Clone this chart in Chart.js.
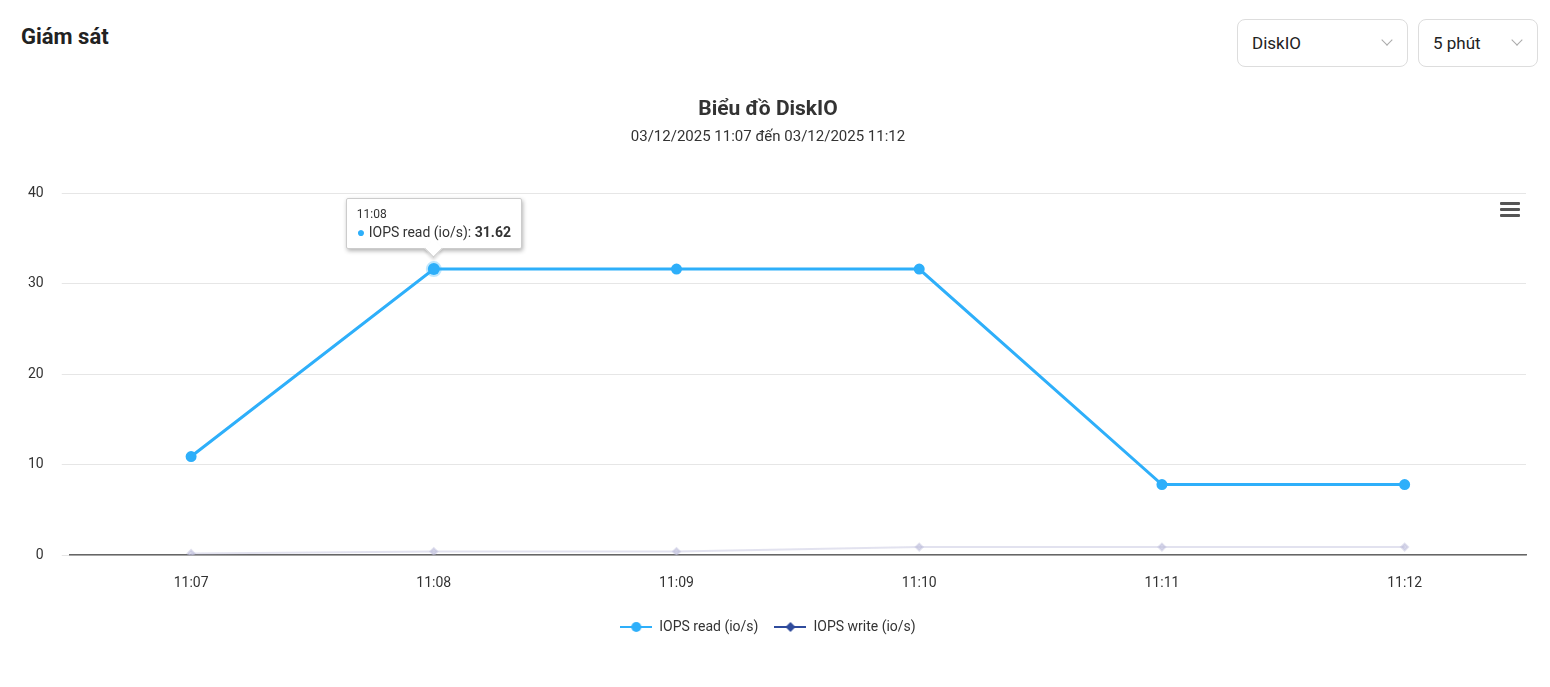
<!DOCTYPE html>
<html><head><meta charset="utf-8">
<script src="https://cdn.jsdelivr.net/npm/chart.js@4"></script>
<style>
body{margin:0;background:#fff;font-family:Roboto,sans-serif;width:1550px;height:687px;overflow:hidden;position:relative}
h1{position:absolute;left:21px;top:24px;margin:0;font-size:22px;font-weight:700;color:#222}
.sel{position:absolute;top:19px;height:48px;border:1px solid #ddd;border-radius:8px;box-sizing:border-box;font-size:17px;color:#222;padding:13px 14px}
.sel:after{content:"";position:absolute;right:16px;top:16px;width:7px;height:7px;border-right:1px solid #aaa;border-bottom:1px solid #aaa;transform:rotate(45deg)}
#wrap{position:absolute;left:0;top:97px;width:1550px;height:547px}
#menu{position:absolute;left:1500px;top:202px;width:20px}
#menu div{height:3px;background:#555;margin-bottom:3px;border-radius:1px}
#tip{position:absolute;background:#fff;border:1px solid #ccc;border-radius:2px;box-shadow:1px 2px 4px rgba(0,0,0,.3);padding:8px 10px;font-size:14px;color:#333;white-space:nowrap;pointer-events:none}
#tip .t{font-size:12px;margin-bottom:3px}
#tip:after{content:"";position:absolute;left:50%;bottom:-7px;margin-left:-7px;width:12px;height:12px;background:#fff;transform:rotate(45deg);border-right:1px solid #ccc;border-bottom:1px solid #ccc;box-shadow:2px 2px 3px rgba(0,0,0,.15)}
</style></head><body>
<h1>Giám sát</h1>
<div class="sel" style="left:1237px;width:171px">DiskIO</div>
<div class="sel" style="left:1418px;width:120px">5 phút</div>
<div id="wrap"><canvas id="c"></canvas></div>
<div id="menu"><div></div><div></div><div></div></div>
<div id="tip" style="display:none"></div>
<script>
const labels = ["11:07","11:08","11:09","11:10","11:11","11:12"];
const readValues = [10.9, 31.62, 31.62, 31.62, 7.8, 7.8];
const writeValues = [0.2, 0.4, 0.4, 0.9, 0.9, 0.9];
const readColor = "#2eaffa";
const writeColor = "#2f4b9c";

function legendIcon(color, style) {
  const c = document.createElement("canvas");
  c.width = 32; c.height = 12;
  const g = c.getContext("2d");
  g.strokeStyle = color; g.fillStyle = color; g.lineWidth = 2;
  g.beginPath(); g.moveTo(0, 6); g.lineTo(32, 6); g.stroke();
  g.beginPath();
  if (style === "circle") g.arc(16, 6, 5, 0, Math.PI * 2);
  else { g.moveTo(16, 1); g.lineTo(21, 6); g.lineTo(16, 11); g.lineTo(11, 6); g.closePath(); }
  g.fill();
  return c;
}

function externalTip(ctx) {
  const el = document.getElementById("tip");
  const t = ctx.tooltip;
  if (t.opacity === 0) { el.style.display = "none"; return; }
  const dp = t.dataPoints[0];
  el.innerHTML = '<div class="t">' + dp.label + '</div><span style="color:' + readColor + '">●</span> ' +
    dp.dataset.label + ': <b>' + dp.raw.toFixed(2) + '</b>';
  el.style.display = "block";
  const r = ctx.chart.canvas.getBoundingClientRect();
  el.style.left = (r.left + t.caretX - el.offsetWidth / 2) + "px";
  el.style.top = (r.top + t.caretY - el.offsetHeight - 20) + "px";
}

const chart = new Chart(document.getElementById("c"), {
  type: "line",
  data: {
    labels: labels,
    datasets: [
      { label: "IOPS read (io/s)", data: readValues, borderColor: readColor, backgroundColor: readColor,
        borderWidth: 3, pointRadius: 4, pointHoverRadius: 6, pointHoverBorderWidth: 4,
        pointHoverBorderColor: "rgba(46,175,250,0.3)", pointHoverBackgroundColor: readColor },
      { label: "IOPS write (io/s)", data: writeValues, borderColor: "rgba(190,190,220,0.45)",
        backgroundColor: "rgba(190,190,220,0.6)", borderWidth: 2, pointStyle: "rectRot", pointRadius: 3.5 }
    ]
  },
  options: {
    responsive: true, maintainAspectRatio: false, animation: false,
    layout: { padding: { left: 10, right: 24, top: 0, bottom: 0 } },
    interaction: { mode: "nearest", intersect: false },
    scales: {
      x: { offset: true, grid: { display: false }, border: { color: "#666", width: 1.5 },
        ticks: { color: "#333", font: { family: "Roboto", size: 14 }, padding: 12 } },
      y: { min: 0, max: 40, ticks: { stepSize: 10, color: "#333", font: { family: "Roboto", size: 14 }, padding: 18 },
        grid: { color: "#e6e6e6" }, border: { display: false } }
    },
    plugins: {
      title: { display: true, text: "Biểu đồ DiskIO", color: "#333", font: { family: "Roboto", size: 21, weight: "bold" }, padding: { top: 0, bottom: 6 } },
      subtitle: { display: true, text: "03/12/2025 11:07 đến 03/12/2025 11:12", color: "#333", font: { family: "Roboto", size: 15 }, padding: { bottom: 47 } },
      legend: { position: "bottom",
        labels: { usePointStyle: true, pointStyleWidth: 32, boxHeight: 12, color: "#333", font: { family: "Roboto", size: 14 }, padding: 16,
          generateLabels: () => [
            { text: "IOPS read (io/s)", pointStyle: legendIcon(readColor, "circle"), fontColor: "#333", datasetIndex: 0 },
            { text: "IOPS write (io/s)", pointStyle: legendIcon(writeColor, "diamond"), fontColor: "#333", datasetIndex: 1 }
          ] } },
      tooltip: { enabled: false, external: externalTip }
    }
  }
});
chart.setActiveElements([{ datasetIndex: 0, index: 1 }]);
chart.tooltip.setActiveElements([{ datasetIndex: 0, index: 1 }], { x: 0, y: 0 });
chart.update();
</script>
</body></html>
